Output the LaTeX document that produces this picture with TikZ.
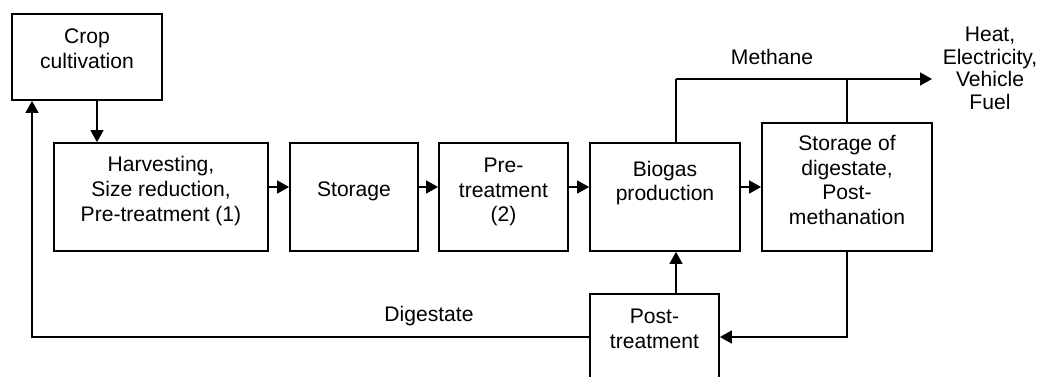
\documentclass[tikz,border=0pt]{standalone}
\usepackage{fontspec}
\setmainfont{Liberation Sans}
\usetikzlibrary{arrows.meta, calc, positioning}
\tikzstyle{stage}=[draw, line width=1pt, inner sep=0pt, minimum height=2.16cm]
\tikzstyle{caption}=[align=center, inner sep=0pt, font=\fontsize{12}{14}\selectfont]
\tikzstyle{pipe}=[line width=0.8pt]
\tikzstyle{flow}=[pipe, -{Triangle[length=0.24cm, width=0.26cm]}]

\begin{document}
\begin{tikzpicture}
    \useasboundingbox (0, 0) rectangle (20.92, 7.52);

    \node (crop)[stage, minimum width=3.0cm, minimum height=1.72cm] at (1.74, 6.38) {};
    \node (harv)[stage, minimum width=4.28cm] at (3.22, 3.58) {};
    \node (stor)[stage, minimum width=2.56cm] at (7.08, 3.58) {};
    \node (pre)[stage, minimum width=2.58cm] at (10.07, 3.58) {};
    \node (bio)[stage, minimum width=3.0cm] at (13.30, 3.58) {};
    \node (dig)[stage, minimum width=3.40cm, minimum height=2.56cm] at (16.94, 3.78) {};
    \node (post)[stage, minimum width=2.58cm, minimum height=1.72cm] at (13.09, 0.78) {};

    \node (cropT)[caption] at ([yshift=0.16cm]crop.center) {Crop\\cultivation};
    \node (harvT)[caption] at ([yshift=0.12cm]harv.center) {Harvesting,\\Size reduction,\\Pre-treatment (1)};
    \node (storT)[caption] at ([yshift=0.12cm]stor.center) {Storage};
    \node (preT)[caption] at ([yshift=0.1cm]pre.center) {Pre-\\treatment\\(2)};
    \node (bioT)[caption] at ([yshift=0.28cm]bio.center) {Biogas\\production};
    \node (digT)[caption] at ([yshift=0.14cm]dig.center) {Storage of\\digestate,\\Post-\\methanation};
    \node (postT)[caption] at ([yshift=0.16cm]post.center) {Post-\\treatment};

    \node (methaneL)[caption] at (15.44, 6.38) {Methane};
    \node (digL)[caption] at (8.58, 1.20) {Digestate};
    \node (useL)[caption, font=\fontsize{12}{12.8}\selectfont] at (19.8, 6.15) {Heat,\\Electricity,\\Vehicle\\Fuel};

    \coordinate (split) at (13.52, 5.94);
    \coordinate (use) at (18.64, 5.94);
    \coordinate (back) at (0.64, 0.78);

    % main line
    \draw[flow] ([xshift=0.2cm]crop.south) -- ([xshift=0.2cm]crop.south |- harv.north);
    \draw[flow] (harv.east |- dig) -- (stor.west |- dig);
    \draw[flow] (stor.east |- dig) -- (pre.west |- dig);
    \draw[flow] (pre.east |- dig) -- (bio.west |- dig);
    \draw[flow] (bio.east |- dig) -- (dig.west);

    % methane out
    \draw[pipe] (bio.north -| split) -- (split);
    \draw[flow] (split) -- (use);
    \draw[pipe] (dig.north) -- (dig.north |- use);

    % digestate back
    \draw[flow] (dig.south) |- (post.east);
    \draw[flow] (post.north -| split) -- (bio.south -| split);
    \draw[flow] (post.west) -| (back |- crop.south);
\end{tikzpicture}
\end{document}
